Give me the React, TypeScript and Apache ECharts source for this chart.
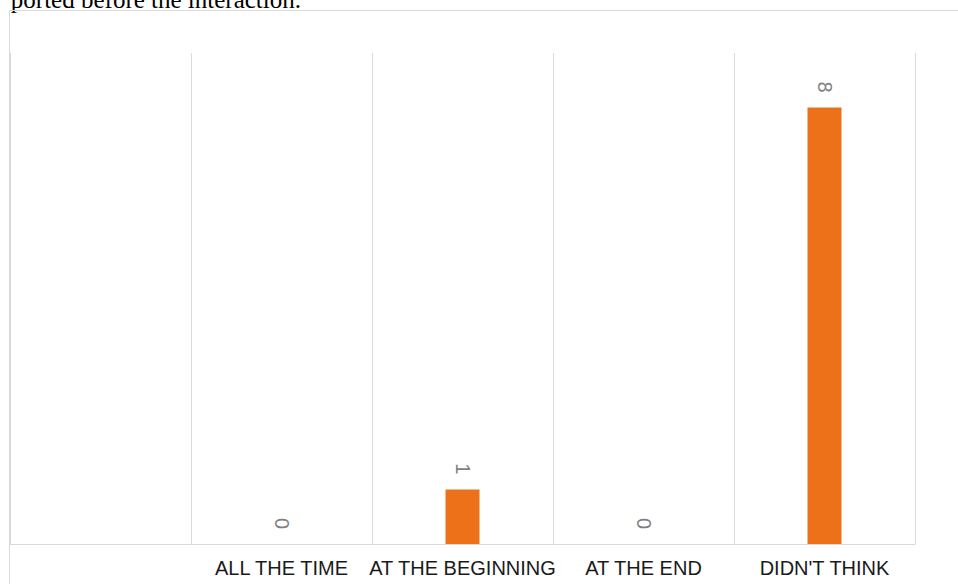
import React, { useEffect, useRef } from "react";
import * as echarts from "echarts";

const categories = ["", "ALL THE TIME", "AT THE BEGINNING", "AT THE END", "DIDN'T THINK"];
const values: (number | null)[] = [null, 0, 1, 0, 8];
const captionText = "ported before the interaction.";

export default function App() {
  const ref = useRef<HTMLDivElement>(null);
  useEffect(() => {
    if (!ref.current) return;
    const chart = echarts.init(ref.current, undefined, { renderer: "svg" });
    chart.setOption({
      animation: false,
      backgroundColor: "#ffffff",
      grid: { left: 10, right: 43, top: 53, bottom: 40, containLabel: false },
      xAxis: {
        type: "category",
        data: categories,
        boundaryGap: true,
        axisLine: { show: true, lineStyle: { color: "#d9d9d9", width: 1 } },
        axisTick: { show: false },
        splitLine: { show: true, lineStyle: { color: "#d9d9d9", width: 1 } },
        axisLabel: {
          color: "#1a1a1a",
          fontSize: 20,
          fontFamily: "Liberation Sans",
          margin: 14,
          interval: 0,
        },
      },
      yAxis: {
        type: "value",
        min: 0,
        max: 9,
        show: false,
        splitLine: { show: false },
      },
      graphic: [
        {
          type: "text",
          x: 301,
          y: -1,
          style: {
            text: captionText,
            fontFamily: "Liberation Serif",
            fontSize: 25,
            fill: "#000000",
            align: "right",
            verticalAlign: "middle",
          },
        },
        {
          type: "line",
          shape: { x1: 9.5, y1: 10.5, x2: 958, y2: 10.5 },
          style: { stroke: "#d9d9d9", lineWidth: 1 },
        },
        {
          type: "line",
          shape: { x1: 9.5, y1: 10.5, x2: 9.5, y2: 584 },
          style: { stroke: "#d9d9d9", lineWidth: 1 },
        },
      ],
      series: [
        {
          type: "bar",
          data: values,
          barWidth: 34,
          itemStyle: { color: "#ED7119" },
          label: {
            show: true,
            position: "top",
            distance: 15,
            rotate: -90,
            align: "right",
            verticalAlign: "middle",
            color: "#7f7f7f",
            fontSize: 20,
            fontFamily: "Liberation Sans",
          },
        },
      ],
    });
    return () => chart.dispose();
  }, []);
  return (
    <div
      ref={ref}
      style={{ position: "fixed", left: 0, top: 0, width: 958, height: 584 }}
    />
  );
}
